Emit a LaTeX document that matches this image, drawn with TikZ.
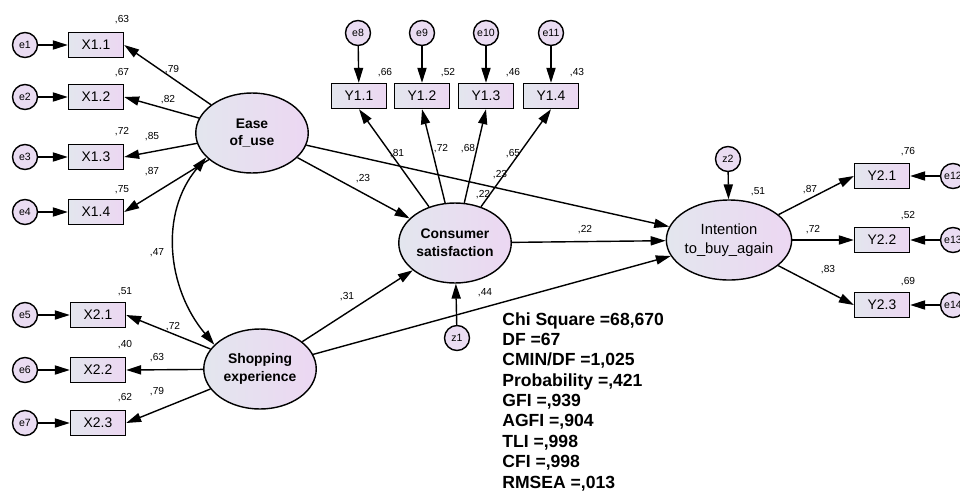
\documentclass[tikz,border=0pt]{standalone}
\usepackage{fontspec}
\setmainfont{Liberation Sans}
\usetikzlibrary{arrows.meta,shapes.geometric}
\definecolor{fillL}{HTML}{E3E6EE}
\definecolor{fillR}{HTML}{ECD7F2}
\definecolor{errF}{HTML}{EADCF2}

\begin{document}
\begin{tikzpicture}[x=0.02cm, y=-0.02cm,
    >={Triangle[length=8.5pt,width=5.2pt]},
    arr/.style={->, line width=0.8pt},
    obs/.style={draw, line width=0.8pt, left color=fillL, right color=fillR,
        minimum width=1.1cm, minimum height=0.5cm, inner sep=0pt,
        font=\fontsize{7.9}{9}\selectfont},
    lat/.style={draw, ellipse, line width=0.8pt, left color=fillL, right color=fillR,
        minimum width=2.25cm, minimum height=1.6cm, inner sep=0pt, align=center,
        font=\bfseries\fontsize{7.9}{10}\selectfont},
    err/.style={draw, circle, line width=0.8pt, fill=errF, minimum size=0.5cm,
        inner sep=0pt, font=\fontsize{6}{7}\selectfont},
    lab/.style={inner sep=0pt, font=\fontsize{5.8}{7}\selectfont}]
    % --- canvas (pixel units) ---
    \useasboundingbox (0,0) rectangle (960,494);

    % --- latent variables ---
    \node[lat] (ease) at (252,133) {Ease\\of\_use};
    \node[lat] (shop) at (260,369) {Shopping\\experience};
    \node[lat] (cons) at (455,243) {Consumer\\satisfaction};
    \node[lat, font=\fontsize{8.4}{10.5}\selectfont] (inten) at (729,240) {Intention\\to\_buy\_again};

    % --- indicators of Ease of_use ---
    \node[obs] (x11) at (96,45) {X1.1};
    \node[obs] (x12) at (96,97) {X1.2};
    \node[obs] (x13) at (96,157) {X1.3};
    \node[obs] (x14) at (96,212) {X1.4};
    \node[err] (e1) at (25,45) {e1};
    \node[err] (e2) at (25,97) {e2};
    \node[err] (e3) at (25,157) {e3};
    \node[err] (e4) at (25,212) {e4};

    % --- indicators of Shopping experience ---
    \node[obs] (x21) at (98,315) {X2.1};
    \node[obs] (x22) at (98,370) {X2.2};
    \node[obs] (x23) at (98,423) {X2.3};
    \node[err] (e5) at (25,315) {e5};
    \node[err] (e6) at (25,370) {e6};
    \node[err] (e7) at (25,423) {e7};

    % --- indicators of Consumer satisfaction ---
    \node[obs] (y11) at (359,96) {Y1.1};
    \node[obs] (y12) at (422,96) {Y1.2};
    \node[obs] (y13) at (486,96) {Y1.3};
    \node[obs] (y14) at (551,96) {Y1.4};
    \node[err] (e8) at (358,33) {e8};
    \node[err] (e9) at (422,33) {e9};
    \node[err] (e10) at (486,33) {e10};
    \node[err] (e11) at (551,33) {e11};

    % --- indicators of Intention ---
    \node[obs] (y21) at (882,176) {Y2.1};
    \node[obs] (y22) at (882,240) {Y2.2};
    \node[obs] (y23) at (882,305) {Y2.3};
    \node[err] (e12) at (953,176) {e12};
    \node[err] (e13) at (953,240) {e13};
    \node[err] (e14) at (953,305) {e14};

    % --- disturbances ---
    \node[err] (z1) at (457,338) {z1};
    \node[err] (z2) at (728,159) {z2};

    % --- error arrows ---
    \draw[arr] (e1) -- (x11);
    \draw[arr] (e2) -- (x12);
    \draw[arr] (e3) -- (x13);
    \draw[arr] (e4) -- (x14);
    \draw[arr] (e5) -- (x21);
    \draw[arr] (e6) -- (x22);
    \draw[arr] (e7) -- (x23);
    \draw[arr] (e8) -- (y11);
    \draw[arr] (e9) -- (y12);
    \draw[arr] (e10) -- (y13);
    \draw[arr] (e11) -- (y14);
    \draw[arr] (e12) -- (y21);
    \draw[arr] (e13) -- (y22);
    \draw[arr] (e14) -- (y23);
    \draw[arr] (z1) -- (cons);
    \draw[arr] (z2) -- (inten);

    % --- loadings ---
    \draw[arr] (ease) -- (x11.east);
    \draw[arr] (ease) -- (x12.east);
    \draw[arr] (ease) -- (x13.east);
    \draw[arr] (ease) -- (x14.east);
    \draw[arr] (shop) -- (x21.east);
    \draw[arr] (shop) -- (x22.east);
    \draw[arr] (shop) -- (x23.east);
    \draw[arr] (cons) -- (y11.south);
    \draw[arr] (cons) -- (y12.south);
    \draw[arr] (cons) -- (y13.south);
    \draw[arr] (cons) -- (y14.south);
    \draw[arr] (inten) -- (y21.west);
    \draw[arr] (inten) -- (y22.west);
    \draw[arr] (inten) -- (y23.west);

    % --- structural paths ---
    \draw[arr] (ease) -- (cons);
    \draw[arr] (shop) -- (cons);
    \draw[arr] (ease) -- (inten);
    \draw[arr] (cons) -- (inten);
    \draw[arr] (shop) -- (inten);
    % covariance
    \draw[arr, <->] (ease.208) to[out=230, in=130] (shop.152);

    % --- squared multiple correlations ---
    \node[lab] (r11) at (122,20) {,63};
    \node[lab] (r12) at (122,73) {,67};
    \node[lab] (r13) at (122,132) {,72};
    \node[lab] (r14) at (122,190) {,75};
    \node[lab] (r21) at (125,292) {,51};
    \node[lab] (r22) at (125,345) {,40};
    \node[lab] (r23) at (125,398) {,62};
    \node[lab] (q11) at (385,73) {,66};
    \node[lab] (q12) at (448,73) {,52};
    \node[lab] (q13) at (513,73) {,46};
    \node[lab] (q14) at (577,73) {,43};
    \node[lab] (q21) at (908,152) {,76};
    \node[lab] (q22) at (908,216) {,52};
    \node[lab] (q23) at (908,282) {,69};
    \node[lab] (rcons) at (483,195) {,22};
    \node[lab] (rinten) at (758,192) {,51};

    % --- path coefficients ---
    \node[lab] (l11) at (172,70) {,79};
    \node[lab] (l12) at (168,100) {,82};
    \node[lab] (l13) at (152,137) {,85};
    \node[lab] (l14) at (152,172) {,87};
    \node[lab] (l21) at (173,327) {,72};
    \node[lab] (l22) at (157,358) {,63};
    \node[lab] (l23) at (157,392) {,79};
    \node[lab] (lcov) at (157,253) {,47};
    \node[lab] (m11) at (397,154) {,81};
    \node[lab] (m12) at (441,149) {,72};
    \node[lab] (m13) at (468,149) {,68};
    \node[lab] (m14) at (513,154) {,65};
    \node[lab] (m21) at (810,190) {,87};
    \node[lab] (m22) at (813,230) {,72};
    \node[lab] (m23) at (828,270) {,83};
    \node[lab] (pec) at (363,179) {,23};
    \node[lab] (pei) at (500,175) {,23};
    \node[lab] (pci) at (585,230) {,22};
    \node[lab] (psc) at (347,297) {,31};
    \node[lab] (psi) at (485,293) {,44};

    % --- fit statistics ---
    \node[anchor=north west, inner sep=0pt, align=left,
        font=\bfseries\fontsize{10}{11.6}\selectfont] (stats) at (502,312)
        {Chi Square =68,670\\DF =67\\CMIN/DF =1,025\\Probability =,421\\GFI =,939\\
         AGFI =,904\\TLI =,998\\CFI =,998\\RMSEA =,013};
\end{tikzpicture}
\end{document}
